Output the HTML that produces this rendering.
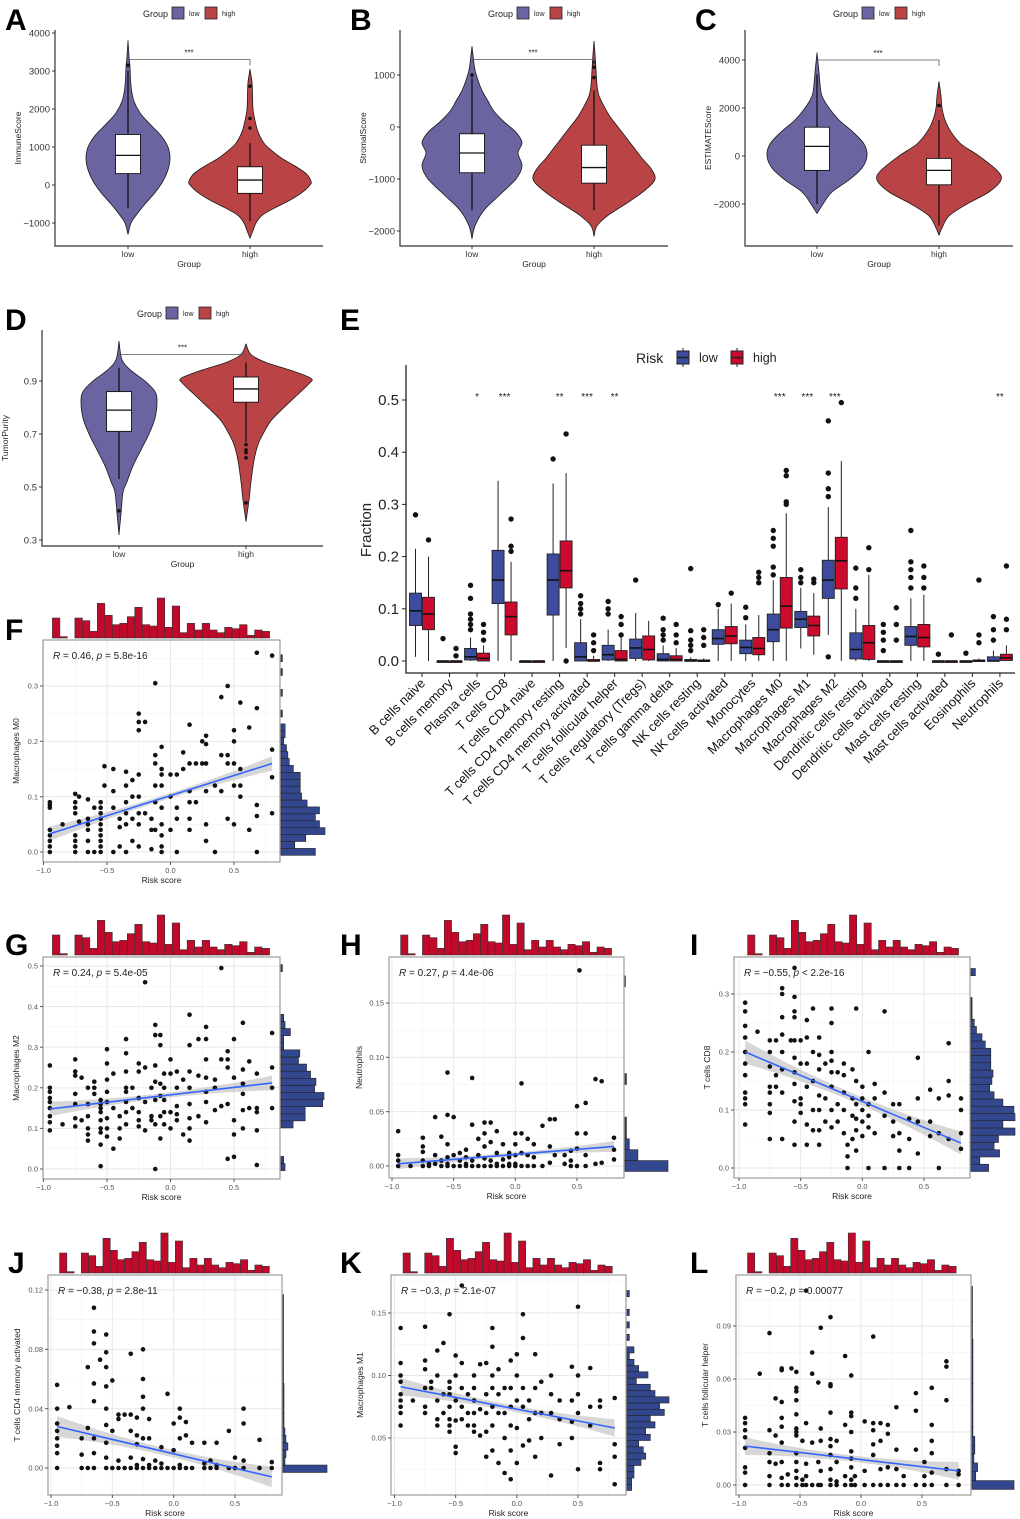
<!DOCTYPE html>
<html><head><meta charset="utf-8"><style>
html,body{margin:0;padding:0;background:#fff}
svg{display:block;font-family:"Liberation Sans",Arial,sans-serif}
</style></head><body>
<svg id="fig" xmlns="http://www.w3.org/2000/svg" width="1020" height="1519" viewBox="0 0 1020 1519"></svg>
<script>
// ---------- DATA: violin panels ----------
const A_lowDens=[[-1300,0],[-1000,3],[-800,8],[-500,17],[-200,27],[100,35],[400,40],[700,42],[1000,40],[1300,33],[1600,22],[1900,12],[2200,6],[2500,3.5],[2800,2.5],[3100,2],[3400,1],[3800,0]];
const A_highDens=[[-1400,0],[-1200,3],[-1000,6],[-800,12],[-600,25],[-400,40],[-200,52],[0,60],[100,61],[300,56],[500,45],[700,32],[900,22],[1100,14],[1400,8],[1700,5],[2000,3],[2400,2.5],[2700,2],[3050,0]];
const A_lowBox=[-600,300,780,1330,3000];
const A_highBox=[-950,-220,130,480,1100];
const A_lowOut=[3150];
const A_highOut=[1500,1750,2600];
const B_lowDens=[[-2150,0],[-1900,3],[-1600,12],[-1300,28],[-1000,44],[-750,50],[-500,46],[-300,50],[-100,44],[100,32],[300,22],[500,16],[700,10],[900,6],[1100,3],[1300,1.5],[1550,0]];
const B_highDens=[[-2100,0],[-1900,3],[-1700,14],[-1450,34],[-1200,52],[-1000,61],[-800,57],[-600,48],[-400,40],[-200,32],[0,24],[200,16],[400,10],[600,5],[800,3],[1100,2],[1400,1],[1650,0]];
const B_lowBox=[-1600,-880,-500,-130,950];
const B_highBox=[-1600,-1080,-780,-350,700];
const B_lowOut=[1000];
const B_highOut=[950,1150,1250];
const C_lowDens=[[-2400,0],[-2000,6],[-1500,15],[-1000,32],[-500,45],[0,50],[500,47],[1000,36],[1500,22],[2000,12],[2500,5],[3000,3],[3500,2],[4300,0]];
const C_highDens=[[-3300,0],[-3000,3],[-2500,10],[-2000,28],[-1500,50],[-1000,62],[-600,58],[0,40],[500,22],[1000,12],[1500,6],[2000,3],[2500,2],[3100,0]];
const C_lowBox=[-2000,-600,400,1200,3400];
const C_highBox=[-2900,-1200,-600,-100,1500];
const C_lowOut=[];
const C_highOut=[2100];
const D_lowDens=[[0.32,0],[0.4,2],[0.48,4],[0.52,8],[0.58,14],[0.64,22],[0.7,30],[0.76,36],[0.82,38],[0.86,36],[0.9,26],[0.94,12],[0.98,3],[1.05,0]];
const D_highDens=[[0.37,0],[0.45,3],[0.52,5],[0.6,8],[0.66,12],[0.7,17],[0.75,25],[0.8,38],[0.85,52],[0.89,63],[0.91,65],[0.94,45],[0.97,20],[1.0,5],[1.04,0]];
const D_lowBox=[0.53,0.71,0.79,0.86,0.95];
const D_highBox=[0.67,0.82,0.87,0.915,0.97];
const D_lowOut=[0.41];
const D_highOut=[0.66,0.64,0.63,0.61,0.44];

// ---------- DATA: panel E ----------
const cellTypes=["B cells naive","B cells memory","Plasma cells","T cells CD8","T cells CD4 naive","T cells CD4 memory resting","T cells CD4 memory activated","T cells follicular helper","T cells regulatory (Tregs)","T cells gamma delta","NK cells resting","NK cells activated","Monocytes","Macrophages M0","Macrophages M1","Macrophages M2","Dendritic cells resting","Dendritic cells activated","Mast cells resting","Mast cells activated","Eosinophils","Neutrophils"];
const lowQ1=[.068,0,.002,.11,0,.088,0,.002,.005,0,0,.032,.014,.037,.064,.12,.004,0,.03,0,0,0];
const lowMed=[.096,0,.008,.155,0,.155,.008,.012,.025,.003,0,.043,.026,.06,.08,.155,.022,0,.047,0,0,0];
const lowQ3=[.13,0,.024,.212,0,.205,.035,.03,.042,.014,.003,.06,.04,.09,.095,.193,.054,0,.066,0,0,.008];
const lowWlo=[.008,0,0,0,0,0,0,0,0,0,0,0,0,0,.024,.05,0,0,0,0,0,0];
const lowWhi=[.215,0,.045,.345,0,.34,.08,.06,.092,.03,.007,.1,.07,.155,.14,.295,.1,0,.12,0,0,.02];
const highQ1=[.06,0,0,.05,0,.14,0,0,.002,0,0,.033,.012,.063,.048,.138,.003,0,.027,0,0,.001];
const highMed=[.09,0,.005,.085,0,.173,0,.003,.022,.003,0,.048,.024,.105,.068,.192,.035,0,.045,0,0,.006];
const highQ3=[.122,0,.015,.113,0,.23,.003,.02,.048,.01,.002,.066,.045,.16,.086,.237,.068,0,.07,0,.002,.013];
const highWlo=[0,0,0,0,0,.025,0,0,0,0,0,0,0,0,.012,0,0,0,0,0,0,0];
const highWhi=[.2,0,.03,.19,0,.36,.01,.045,.077,.025,.005,.11,.088,.283,.13,.383,.165,0,.127,0,.005,.03];
const lowOut=[[.28],[.043],[.06,.07,.08,.09,.12,.145],[],[],[.387],[.09,.1,.11,.125],[.09,.1,.114],[.155],[.04,.05,.06,.082],[.02,.03,.04,.058,.177],[.108],[.083,.103],[.165,.18,.22,.235,.25],[.15,.16,.175],[.315,.33,.36,.46,.008],[.12,.14,.178],[.02,.04,.055,.07],[.14,.16,.175,.19,.25],[.013],[.015],[.04,.06,.085]];
const highOut=[[.232],[.01,.024],[.04,.055,.07],[.21,.22,.272],[],[.435,0],[.02,.035,.05],[.05,.07,.085],[],[.035,.05,.07],[.03,.045,.06],[.13],[.15,.16,.17],[.3,.305,.355,.365],[.15,.157],[.495],[.175,.217],[.04,.07,.102],[.14,.16,.182],[.05],[.035,.05,.155],[.06,.08,.182]];
const sigStars=["","","*","***","","**","***","**","","","","","","***","***","***","","","","","","**"];
const E_yTicks=[0,0.1,0.2,0.3,0.4,0.5];

// ---------- DATA: scatter panels ----------
const riskHistCounts=[15,1,0,15,13,5,26,17,10,11,16,23,10,9,30,8,24,4,11,6,11,6,4,8,7,10,2,6,5];
const F_pts=[[-0.95,[0,.01,.02,.03,.04,.08,.085,.09]],[-0.85,[.05]],[-0.75,[.105,.09,.08,.07,.03,.02,.01,0]],[-0.72,[.1,.055]],[-0.65,[.095,.06,.05,.04,0,.02]],[-0.6,[0,.08]],[-0.55,[.09,.08,.07,.06,.05,.04,.03,.02,.01,0]],[-0.52,[.155,.12]],[-0.45,[.15,.08,.11,0]],[-0.4,[.06,.045,.01]],[-0.35,[.145,.12,.09,.07,.05,0]],[-0.3,[.13,.1,.06,.02]],[-0.25,[.25,.235,.22,.14,.1,.07,.05,.01]],[-0.2,[.235,.07]],[-0.15,[.06,.04,.005]],[-0.12,[.305,.175,.16,.12,.09,.04]],[-0.07,[.19,.15,.14,.12,.08,.05,.03,.01,0]],[0,[.14,.1,.04]],[0.05,[.14,.08,.06,0]],[0.1,[.18,.15]],[0.15,[.23,.16,.11,.09,.06,.04]],[0.2,[.16,.09]],[0.25,[.2,.16]],[0.28,[.21,.195,.16,.11,.05,.02]],[0.35,[.12,0]],[0.4,[.28,.175,.11]],[0.45,[.3,.175,.16,.06]],[0.5,[.22,.2,.16,.12,.05]],[0.55,[.27,.15,.12,.1]],[0.62,[.225,.04]],[0.68,[.36,.26,.085,.065,0]],[0.8,[.355,.185,.135,.07]]];
const G_pts=[[-0.95,[.255,.2,.19,.175,.165,.15,.13,.115,.095]],[-0.85,[.11]],[-0.75,[.27,.24,.23,.185,.16,.125,.105]],[-0.7,[.225,.12]],[-0.65,[.2,.16,.13,.1,.085,.07]],[-0.6,[.215,.2,.185]],[-0.55,[.17,.16,.15,.14,.12,.1,.09,.06,.007]],[-0.5,[.295,.26,.22,.19,.165,.125,.1,.08]],[-0.45,[.235,.15,.05]],[-0.4,[.13,.1,.075]],[-0.35,[.32,.285,.24,.2,.19,.165,.14,.11]],[-0.3,[.2,.15]],[-0.25,[.26,.24,.175,.14,.12,.105]],[-0.2,[.46,.25,.165,.095]],[-0.15,[.2,.13,.12]],[-0.12,[.355,.33,.255,.215,.17,.11,0]],[-0.08,[.33,.305,.21,.18,.13,.075]],[-0.05,[.235,.2,.17,.14,.11]],[0,[.27,.235,.14,.1]],[0.05,[.24,.2,.155,.135,.12]],[0.1,[.22,.085]],[0.15,[.38,.305,.24,.2,.16,.125,.1,.07]],[0.22,[.32,.23,.13]],[0.28,[.35,.32,.27,.225,.19,.165,.115]],[0.35,[.22,.145,.2]],[0.4,[.495,.27,.155]],[0.45,[.29,.27,.25,.16,.025]],[0.5,[.32,.225,.12,.085,.03]],[0.57,[.36,.245,.21,.185,.145,.1]],[0.62,[.265,.15]],[0.68,[.235,.15,.14,.095,.01]],[0.8,[.335,.25,.2,.15]]];
const H_pts=[[-0.95,[0,.005,.01,.032]],[-0.85,[0]],[-0.75,[0,.005,.013,.018,.026]],[-0.7,[0,.002]],[-0.65,[.045,.01,.002]],[-0.6,[.027,0,.005]],[-0.55,[.086,.047,.02,.008,.002,0]],[-0.5,[.045,.01,0]],[-0.45,[.012,.005,0]],[-0.4,[.015,.008,.002,0]],[-0.35,[.081,.038,.005,0]],[-0.3,[.025,.01,0]],[-0.25,[.04,.03,.018,.007,0]],[-0.2,[.04,.022,.005,0]],[-0.15,[.032,.012,.002,0]],[-0.1,[.02,.006,0]],[-0.05,[.012,.008,.002,0]],[0,[.03,.02,.01,.002,0]],[0.05,[.076,.03,.012,0]],[0.1,[.025,.01,0]],[0.15,[.02,.008,0]],[0.22,[.037,0]],[0.28,[.043,.018,.003]],[0.32,[.043,.01]],[0.4,[.01,.002]],[0.45,[.014,.005,0]],[0.5,[.055,.03,.016,0]],[0.52,[.18]],[0.57,[.058,.03,.01,0]],[0.65,[.08,.002]],[0.7,[.078,.003]],[0.8,[.026,.015,.006]]];
const I_pts=[[-0.95,[.285,.27,.245,.225,.2,.18,.16,.13,.12,.11,.075]],[-0.85,[.235]],[-0.75,[.22,.2,.175,.14,.13,.11,.095,.05]],[-0.7,[.22,.16,.14]],[-0.65,[.31,.3,.26,.23,.2,.17,.13,.05]],[-0.58,[.22]],[-0.55,[.345,.295,.27,.26,.22,.19,.165,.145,.115,.08,.04]],[-0.5,[.22,.18,.12,.11,.095]],[-0.45,[.255,.225,.18,.14,.075,.04]],[-0.4,[.275,.2,.15,.1,.065]],[-0.35,[.225,.195,.17,.125,.1,.065,.04]],[-0.3,[.18,.12,.08]],[-0.25,[.275,.25,.2,.185,.165,.14,.1,.07]],[-0.2,[.165,.11,.08]],[-0.15,[.18,.16,.13,.1,.06]],[-0.12,[.04,.02,0]],[-0.08,[.17,.12,.09,.05]],[-0.05,[.275,.15,.11,.085,.065,.03]],[0,[.14,.12,.1,.08,.055]],[0.05,[.2,.11,.09,.07,0]],[0.1,[.145,.12,.06]],[0.18,[.27,.13,.09,0]],[0.25,[.11,.08,.055]],[0.3,[.11,.06,.03,0]],[0.38,[.085,.05,0]],[0.45,[.19,.12,.08,.025]],[0.55,[.135,.08,.055]],[0.62,[.12,.06,0]],[0.7,[.215,.15,.125,.05]],[0.8,[.12,.1,.06,.033]]];
const J_pts=[[-0.95,[.056,.04,.03,.025,.02,.015,.01,0]],[-0.85,[.041]],[-0.75,[.02,.009,0]],[-0.7,[.068,.027,0]],[-0.65,[.108,.092,.084,.057,.045,.02,.01,0]],[-0.6,[.073]],[-0.55,[.09,.078,.068,.055,.04,.029,.017,.007,0]],[-0.5,[.059,.025,0]],[-0.45,[.036,.033,.005,0]],[-0.4,[.036,0]],[-0.35,[.077,.036,.025,.007,0]],[-0.3,[.034,.022,.016,.002,0]],[-0.25,[.08,.06,.048,.04,.02,.006,0]],[-0.2,[.033,.02,.002,0]],[-0.15,[.005,0]],[-0.1,[.014,.003,0]],[-0.05,[.05,0]],[0,[.03,.012,0]],[0.05,[.04,.034,.02,.002,0]],[0.1,[.031,.022,0]],[0.15,[.017,0]],[0.25,[.017,.003,0]],[0.3,[.005,0]],[0.35,[.017,.002,0]],[0.45,[.025,0]],[0.5,[.007,0]],[0.57,[.04,.03,.005,0]],[0.7,[.019,0]],[0.8,[.004,0]]];
const K_pts=[[-0.95,[.138,.11,.1,.095,.085,.08,.075,.07,.06]],[-0.85,[.08]],[-0.75,[.139,.112,.105,.09,.075,.07]],[-0.7,[.095,.09]],[-0.65,[.12,.1,.08,.065,.06]],[-0.6,[.126,.085,.07]],[-0.55,[.149,.095,.09,.085,.075,.065,.06,.055]],[-0.5,[.116,.1,.08,.064,.043,.038]],[-0.45,[.172,.11,.09,.075,.065]],[-0.4,[.085,.07,.06]],[-0.35,[.1,.09,.08,.07,.06,.055]],[-0.3,[.109,.073,.052]],[-0.25,[.11,.085,.07,.055,.035]],[-0.2,[.138,.123,.1,.09,.075,.06,.04]],[-0.15,[.105,.085,.07,.03]],[-0.1,[.09,.07,.05,.022]],[-0.05,[.112,.09,.075,.06,.04,.017]],[0,[.117,.1,.08,.058,.03]],[0.05,[.149,.13,.09,.075,.044]],[0.1,[.08,.065,.048]],[0.15,[.117,.09,.07,.035]],[0.2,[.095,.07,.05]],[0.28,[.1,.085,.07,.02]],[0.35,[.08,.065,.045]],[0.45,[.107,.08,.063,.05]],[0.5,[.155,.1,.085,.07,.025]],[0.6,[.106,.075,.06]],[0.68,[.08,.075,.03,.025]],[0.8,[.082,.045,.035,.013]]];
const L_pts=[[-0.95,[.038,.035,.031,.027,.021,.01,.007,0]],[-0.83,[.063]],[-0.75,[.086,.031,.018,.013,.005,0]],[-0.7,[.049,.028,.012]],[-0.65,[.066,.065,.047,.038,.033,.024,.013,.004,0]],[-0.6,[.006,0]],[-0.57,[.066]],[-0.53,[.064,.055,.053,.048,.04,.032,.03,.028,.018,.013,.008,.004,0]],[-0.48,[.025,.003,0]],[-0.45,[.11,.035,.012,.005,0]],[-0.4,[.075,.063,.024,0]],[-0.35,[.058,.013,0]],[-0.33,[.089,.032,.025,.008,0]],[-0.25,[.095,.057,.056,.041,.026,.022,.017,.009,.003,0]],[-0.2,[.025,.013,.002,0]],[-0.13,[.073,.034,.005,0]],[-0.08,[.062,.041,.039,.03,.019,.015,.01,.003,0]],[-0.05,[.005,0]],[0.03,[.036,.008,0]],[0.1,[.084,.035,.031,.023,.017,0]],[0.16,[.035,.025,.009,0]],[0.22,[.034,.029,.01,0]],[0.29,[.044,.02,.009,0]],[0.35,[.005,0]],[0.45,[.052,.042,.02,0]],[0.52,[.013,.005,0]],[0.58,[.055,.034,.025,.018,.007,0]],[0.7,[.07,.067,.048,.009,0]],[0.8,[.008,.006,0]]];
const F_rightHist=[25,10,18,32,28,25,28,19,15,14,14,14,9,6,5,4,2,3,3,0,1,0,0,1,0,0,1,0,1];
const G_rightHist=[3,2,0,0,0,0,9,18,18,31,32,25,26,22,19,13,14,2,2,7,3,2,0,0,0,0,0,0,1];
const H_rightHist=[30,9,3,1,1,0,0,0,1,0,0,0,0,0,0,0,0,0.3];
const I_rightHist=[16,8,26,21,25,40,29,40,39,29,21,17,19,20,18,18,18,13,10,5,3,1,1,1,0,0,0,4];
const J_rightHist=[45,2,3,5,3,2,1,1,1,1,1,1,0.5,0.5,0.5,0.5,0.5,0.5,0.5,0.5,0.5,0.5,0.5,0.5];
const K_rightHist=[2,2,3,3,6,8,7,5,10,8,12,10,16,14,18,12,10,4,9,5,3,1,3,0,1,0,1,0,1,0,0,1];
const L_rightHist=[45,4,6,2,3,3,1,1,1,1,1,1,1,1,1,1,1,0.5,0.5,0.5,0.5,0.5,0.5];
const F_fit=[0.033,0.16], G_fit=[0.148,0.212], H_fit=[0.002,0.018], I_fit=[0.2,0.043], J_fit=[0.028,-0.006], K_fit=[0.091,0.058], L_fit=[0.022,0.008];
const F_stat=["0.46","= 5.8e-16"], G_stat=["0.24","= 5.4e-05"], H_stat=["0.27","= 4.4e-06"], I_stat=["\u22120.55","< 2.2e-16"], J_stat=["\u22120.38","= 2.8e-11"], K_stat=["\u22120.3","= 2.1e-07"], L_stat=["\u22120.2","= 0.00077"];

// ---------- helpers ----------
const NS='http://www.w3.org/2000/svg';
const svg=document.getElementById('fig');
function el(tag,attrs,parent){const e=document.createElementNS(NS,tag);for(const k in attrs)e.setAttribute(k,attrs[k]);(parent||svg).appendChild(e);return e;}
function txt(x,y,s,size,anchor,parent,extra){const t=el('text',Object.assign({x:x,y:y,'font-size':size,'text-anchor':anchor||'start',fill:'#222'},extra||{}),parent);t.textContent=s;return t;}
function grp(name){const g=el('g',{});return g;}
function smooth(pts){let d='M'+pts[0][0]+','+pts[0][1];for(let i=0;i<pts.length-1;i++){const p0=pts[i-1]||pts[i],p1=pts[i],p2=pts[i+1],p3=pts[i+2]||p2;
  const c1x=p1[0]+(p2[0]-p0[0])/6,c1y=p1[1]+(p2[1]-p0[1])/6,c2x=p2[0]-(p3[0]-p1[0])/6,c2y=p2[1]-(p3[1]-p1[1])/6;
  d+=`C${c1x},${c1y} ${c2x},${c2y} ${p2[0]},${p2[1]}`;}return d;}

// panel letters
[["A",5,30],["B",350,30],["C",695,30],["D",5,330],["E",340,330],["F",5,640],["G",5,955],["H",340,955],["I",690,955],["J",8,1273],["K",340,1273],["L",690,1273]].forEach(p=>{
  const t=txt(p[1],p[2],p[0],30,'start',null,{'font-weight':'bold',fill:'#000'});
  
  
});

const LOWC='#6A65A0', HIGHC='#BA4346';
function violinPanel(id,c){
  const g=grp('violin-panel-'+id);
  const ym=v=>c.p0+(v-c.v0)*(c.p1-c.p0)/(c.v1-c.v0);
  const lg=grp('legend-'+id); g.appendChild(lg);
  txt(c.lx,c.ly+4,'Group',9,'start',lg);
  const r1=el('rect',{x:c.lx+29,y:c.ly-6,width:12,height:12,fill:LOWC,stroke:'#222','stroke-width':0.8},lg);
  
  
  txt(c.lx+46,c.ly+3,'low',7,'start',lg);
  const r2=el('rect',{x:c.lx+62,y:c.ly-6,width:12,height:12,fill:HIGHC,stroke:'#222','stroke-width':0.8},lg);
  
  
  txt(c.lx+79,c.ly+3,'high',7,'start',lg);
  const ax=el('path',{d:`M${c.ax},${c.top}V${c.bot}H${c.right}`,stroke:'#333',fill:'none','stroke-width':1.2},g);
  
  
  c.ticks.forEach(v=>{const y=ym(v);el('line',{x1:c.ax-3,x2:c.ax,y1:y,y2:y,stroke:'#333'},g);txt(c.ax-5,y+3.5,c.fmt(v),9.5,'end',g,{fill:'#333'});});
  [[c.cx[0],'low'],[c.cx[1],'high']].forEach(d=>{el('line',{x1:d[0],x2:d[0],y1:c.bot,y2:c.bot+3,stroke:'#333'},g);txt(d[0],c.bot+11,d[1],8.5,'middle',g,{fill:'#333'});});
  txt((c.ax+c.right)/2,c.bot+21,'Group',8.5,'middle',g);
  const yt=txt(0,0,c.ytitle,8.5,'middle',g,{transform:`translate(${c.ax-34},${(c.top+c.bot)/2}) rotate(-90)`});
  
  
  [[c.lowDens,c.lowBox,c.lowOut,LOWC,c.cx[0],'low'],[c.highDens,c.highBox,c.highOut,HIGHC,c.cx[1],'high']].forEach(s=>{
    const dens=s[0],cx=s[4];
    const left=dens.map(p=>[cx-p[1],ym(p[0])]);
    const right=dens.slice().reverse().map(p=>[cx+p[1],ym(p[0])]);
    const d=smooth(left)+smooth(right).replace(/^M[^C]*/,'L'+right[0][0]+','+right[0][1])+'Z';
    const v=el('path',{d:d,fill:s[3],stroke:'#1a1a1a','stroke-width':0.8,'stroke-linejoin':'round'},g);
    
    
    const b=s[1];
    el('line',{x1:cx,x2:cx,y1:ym(b[0]),y2:ym(b[4]),stroke:'#111','stroke-width':1.3},g);
    const bx=el('rect',{x:cx-12.5,y:ym(b[3]),width:25,height:ym(b[1])-ym(b[3]),fill:'#fff',stroke:'#111','stroke-width':0.9},g);
    
    
    el('line',{x1:cx-12.5,x2:cx+12.5,y1:ym(b[2]),y2:ym(b[2]),stroke:'#111','stroke-width':1.3},g);
    s[2].forEach(o=>el('circle',{cx:cx,cy:ym(o),r:1.8,fill:'#111'},g));
  });
  const by=ym(c.brk);
  const br=el('path',{d:`M${c.cx[0]},${by}H${c.cx[1]}V${by+6}`,stroke:'#555',fill:'none','stroke-width':0.8},g);
  
  
  txt((c.cx[0]+c.cx[1])/2,by-4,'***',8,'middle',g);
}
const fk=v=>v<0?'\u2212'+Math.abs(v):String(v);
violinPanel('a',{ax:55,top:30,bot:246,right:323,v0:0,p0:185,v1:4000,p1:33,ticks:[-1000,0,1000,2000,3000,4000],fmt:fk,cx:[128,250],ytitle:'ImmuneScore',lx:143,ly:13,lowDens:A_lowDens,highDens:A_highDens,lowBox:A_lowBox,highBox:A_highBox,lowOut:A_lowOut,highOut:A_highOut,brk:3300});
violinPanel('b',{ax:400,top:30,bot:246,right:668,v0:0,p0:127,v1:1000,p1:75,ticks:[-2000,-1000,0,1000],fmt:fk,cx:[472,594],ytitle:'StromalScore',lx:488,ly:13,lowDens:B_lowDens,highDens:B_highDens,lowBox:B_lowBox,highBox:B_highBox,lowOut:B_lowOut,highOut:B_highOut,brk:1300});
violinPanel('c',{ax:745,top:30,bot:246,right:1013,v0:0,p0:156,v1:4000,p1:60,ticks:[-2000,0,2000,4000],fmt:fk,cx:[817,939],ytitle:'ESTIMATEScore',lx:833,ly:13,lowDens:C_lowDens,highDens:C_highDens,lowBox:C_lowBox,highBox:C_highBox,lowOut:C_lowOut,highOut:C_highOut,brk:4000});
violinPanel('d',{ax:42,top:330,bot:546,right:323,v0:0.3,p0:540,v1:0.9,p1:381,ticks:[0.3,0.5,0.7,0.9],fmt:v=>v.toFixed(1),cx:[119,246],ytitle:'TumorPurity',lx:137,ly:313,lowDens:D_lowDens,highDens:D_highDens,lowBox:D_lowBox,highBox:D_highBox,lowOut:D_lowOut,highOut:D_highOut,brk:1.0});

// ---------- Panel E ----------
(function(){
  const g=grp('panel-e-boxplot');
  const BL='#3D4C9C', RD='#CC0A2E';
  const ym=v=>661-v*522;
  const xc=i=>422+i*27.52;
  const ax=el('path',{d:'M406,365V673H1015',stroke:'#222',fill:'none','stroke-width':1.3},g);
  
  
  E_yTicks.forEach(v=>{el('line',{x1:402,x2:406,y1:ym(v),y2:ym(v),stroke:'#222'},g);txt(399,ym(v)+5,v.toFixed(1),15,'end',g,{fill:'#222'});});
  const yt=txt(0,0,'Fraction',15,'middle',g,{transform:'translate(371,530) rotate(-90)'});
  
  
  const lg=grp('legend-risk'); g.appendChild(lg);
  txt(636,363,'Risk',14,'start',lg);
  [[677,BL,'low',699],[731,RD,'high',753]].forEach(l=>{
    el('line',{x1:l[0]+6,x2:l[0]+6,y1:348,y2:367,stroke:'#222'},lg);
    const r=el('rect',{x:l[0],y:351,width:12,height:13,fill:l[1],stroke:'#222'},lg);
    
    
    el('line',{x1:l[0],x2:l[0]+12,y1:357.5,y2:357.5,stroke:'#222','stroke-width':1.5},lg);
    txt(l[3],362,l[2],12.5,'start',lg);
  });
  cellTypes.forEach((name,i)=>{
    const cx=xc(i);
    el('line',{x1:cx,x2:cx,y1:673,y2:677,stroke:'#222'},g);
    const lab=txt(0,0,name,13,'end',g,{transform:`translate(${cx+4},${684}) rotate(-45)`,fill:'#111'});
    
    
    [[lowQ1,lowMed,lowQ3,lowWlo,lowWhi,lowOut,BL,-6.5,'low'],[highQ1,highMed,highQ3,highWlo,highWhi,highOut,RD,6.5,'high']].forEach(s=>{
      const x=cx+s[7];
      el('line',{x1:x,x2:x,y1:ym(s[3][i]),y2:ym(s[4][i]),stroke:'#222','stroke-width':1},g);
      const h=Math.max(ym(s[0][i])-ym(s[2][i]),1.5);
      const b=el('rect',{x:x-6,y:ym(s[2][i]),width:12,height:h,fill:s[6],stroke:'#222','stroke-width':0.9},g);
      
      
      el('line',{x1:x-6,x2:x+6,y1:ym(s[1][i]),y2:ym(s[1][i]),stroke:'#111','stroke-width':1.6},g);
      s[5][i].forEach(o=>el('circle',{cx:x,cy:ym(o),r:2.7,fill:'#111'},g));
    });
    if(sigStars[i]){const st=txt(cx,400,sigStars[i],10,'middle',g);}
  });
})();

// ---------- Scatter panels ----------
function scatterPanel(id,c){
  const g=grp('scatter-panel-'+id);
  const xm=v=>c.xa+(v+1)*(c.xb-c.xa)/1.5;
  const ym=v=>c.pa+(v-c.va)*(c.pb-c.pa)/(c.vb-c.va);
  const [L,T,R,B]=c.box;
  el('rect',{x:L,y:T,width:R-L,height:B-T,fill:'#fff'},g);
  const xt=[-1,-0.5,0,0.5];
  [-0.75,-0.25,0.25,0.75].forEach(v=>el('line',{x1:xm(v),x2:xm(v),y1:T,y2:B,stroke:'#f2f2f2','stroke-width':0.6},g));
  xt.forEach(v=>el('line',{x1:xm(v),x2:xm(v),y1:T,y2:B,stroke:'#e6e6e6','stroke-width':0.9},g));
  const st=c.ticks[1]-c.ticks[0];
  for(let v=c.ticks[0]-st/2;v<=c.ticks[c.ticks.length-1]+st;v+=st){const y=ym(v);if(y>T&&y<B)el('line',{x1:L,x2:R,y1:y,y2:y,stroke:'#f2f2f2','stroke-width':0.6},g);}
  c.ticks.forEach(v=>el('line',{x1:L,x2:R,y1:ym(v),y2:ym(v),stroke:'#e6e6e6','stroke-width':0.9},g));
  const fx=[-0.95,0.8];
  const f=x=>c.fit[0]+(x-fx[0])*(c.fit[1]-c.fit[0])/(fx[1]-fx[0]);
  const up=[],dn=[];
  for(let k=0;k<=20;k++){const x=fx[0]+k*(fx[1]-fx[0])/20;const t=(x+0.075)/0.875;const w=c.ci*(0.35+0.65*t*t);up.push(xm(x)+','+ym(f(x)+w));dn.unshift(xm(x)+','+ym(f(x)-w));}
  const band=el('polygon',{points:up.concat(dn).join(' '),fill:'#bdbdbd','fill-opacity':0.6},g);
  
  
  c.pts.forEach(grpPts=>grpPts[1].forEach(y=>{
    const p=el('circle',{cx:xm(grpPts[0]),cy:ym(y),r:2.3,fill:'#111'},g);
    
    
  }));
  const fl=el('line',{x1:xm(fx[0]),y1:ym(c.fit[0]),x2:xm(fx[1]),y2:ym(c.fit[1]),stroke:'#3366FF','stroke-width':1.6},g);
  
  
  const bd=el('rect',{x:L,y:T,width:R-L,height:B-T,fill:'none',stroke:'#8a8a8a','stroke-width':1},g);
  
  
  xt.forEach(v=>{el('line',{x1:xm(v),x2:xm(v),y1:B,y2:B+3,stroke:'#555'},g);txt(xm(v),B+11,v===0?'0.0':fk(v.toFixed(1)*1).replace(/^(\u2212?)1$/,'$11.0'),7.5,'middle',g,{fill:'#555'});});
  c.ticks.forEach(v=>{el('line',{x1:L-3,x2:L,y1:ym(v),y2:ym(v),stroke:'#555'},g);txt(L-5,ym(v)+2.7,v.toFixed(c.dec),7.5,'end',g,{fill:'#555'});});
  txt((L+R)/2,B+21,'Risk score',8.5,'middle',g);
  const yt=txt(0,0,c.ytitle,8.5,'middle',g,{transform:`translate(${L-c.yoff},${(T+B)/2}) rotate(-90)`});
  
  
  const an=el('text',{x:L+10,y:T+19,'font-size':10,fill:'#222'},g);
  
  
  an.innerHTML=`<tspan font-style="italic">R</tspan> = ${c.stat[0]}, <tspan font-style="italic">p</tspan> ${c.stat[1]}`;
  const hs=-0.93, hw=1.71/riskHistCounts.length, mx=Math.max(...riskHistCounts);
  riskHistCounts.forEach((n,i)=>{if(!n)return;const h=n*40/mx;
    const r=el('rect',{x:xm(hs+i*hw),y:T-2-h,width:xm(hs+(i+1)*hw)-xm(hs+i*hw),height:h,fill:'#C1092B',stroke:'#333','stroke-width':0.6},g);
    
    
  });
  const rm=Math.max(...c.rh);
  c.rh.forEach((n,i)=>{if(!n)return;const w=n*c.rmax/rm;const y0=ym(c.rs+i*c.rw),y1=ym(c.rs+(i+1)*c.rw);
    const r=el('rect',{x:R+1,y:Math.min(y0,y1),width:w,height:Math.abs(y0-y1),fill:'#33478F',stroke:'#222','stroke-width':0.6},g);
    
    
  });
}
scatterPanel('f',{box:[43,640,280,862],xa:43.5,xb:234,va:0,pa:852,vb:0.3,pb:686,ticks:[0,0.1,0.2,0.3],dec:1,pts:F_pts,fit:F_fit,ci:0.013,stat:F_stat,ytitle:'Macrophages M0',yoff:24,rh:F_rightHist,rs:-0.006,rw:0.0125,rmax:44});
scatterPanel('g',{box:[43,957,280,1179],xa:43.5,xb:234,va:0,pa:1169,vb:0.5,pb:966,ticks:[0,0.1,0.2,0.3,0.4,0.5],dec:1,pts:G_pts,fit:G_fit,ci:0.018,stat:G_stat,ytitle:'Macrophages M2',yoff:24,rh:G_rightHist,rs:-0.004,rw:0.0175,rmax:43});
scatterPanel('h',{box:[389,957,624,1178],xa:392,xb:577,va:0,pa:1166,vb:0.15,pb:1003,ticks:[0,0.05,0.1,0.15],dec:2,pts:H_pts,fit:H_fit,ci:0.005,stat:H_stat,ytitle:'Neutrophils',yoff:27,rh:H_rightHist,rs:-0.005,rw:0.01,rmax:43});
scatterPanel('i',{box:[734,957,970,1178],xa:739,xb:924,va:0,pa:1168,vb:0.3,pb:994,ticks:[0,0.1,0.2,0.3],dec:1,pts:I_pts,fit:I_fit,ci:0.02,stat:I_stat,ytitle:'T cells CD8',yoff:24,rh:I_rightHist,rs:-0.006,rw:0.0125,rmax:44});
scatterPanel('j',{box:[48,1275,282,1495],xa:51,xb:235,va:0,pa:1468,vb:0.12,pb:1290,ticks:[0,0.04,0.08,0.12],dec:2,pts:J_pts,fit:J_fit,ci:0.007,stat:J_stat,ytitle:'T cells CD4 memory activated',yoff:28,rh:J_rightHist,rs:-0.003,rw:0.005,rmax:44});
scatterPanel('k',{box:[391,1275,626,1495],xa:394.5,xb:578,va:0.05,pa:1438,vb:0.15,pb:1313,ticks:[0.05,0.1,0.15],dec:2,pts:K_pts,fit:K_fit,ci:0.007,stat:K_stat,ytitle:'Macrophages M1',yoff:28,rh:K_rightHist,rs:0.008,rw:0.005,rmax:42});
scatterPanel('l',{box:[736,1275,971,1495],xa:739,xb:922,va:0,pa:1485,vb:0.09,pb:1326,ticks:[0,0.03,0.06,0.09],dec:2,pts:L_pts,fit:L_fit,ci:0.005,stat:L_stat,ytitle:'T cells follicular helper',yoff:28,rh:L_rightHist,rs:-0.0025,rw:0.005,rmax:42});
</script>
</body></html>
